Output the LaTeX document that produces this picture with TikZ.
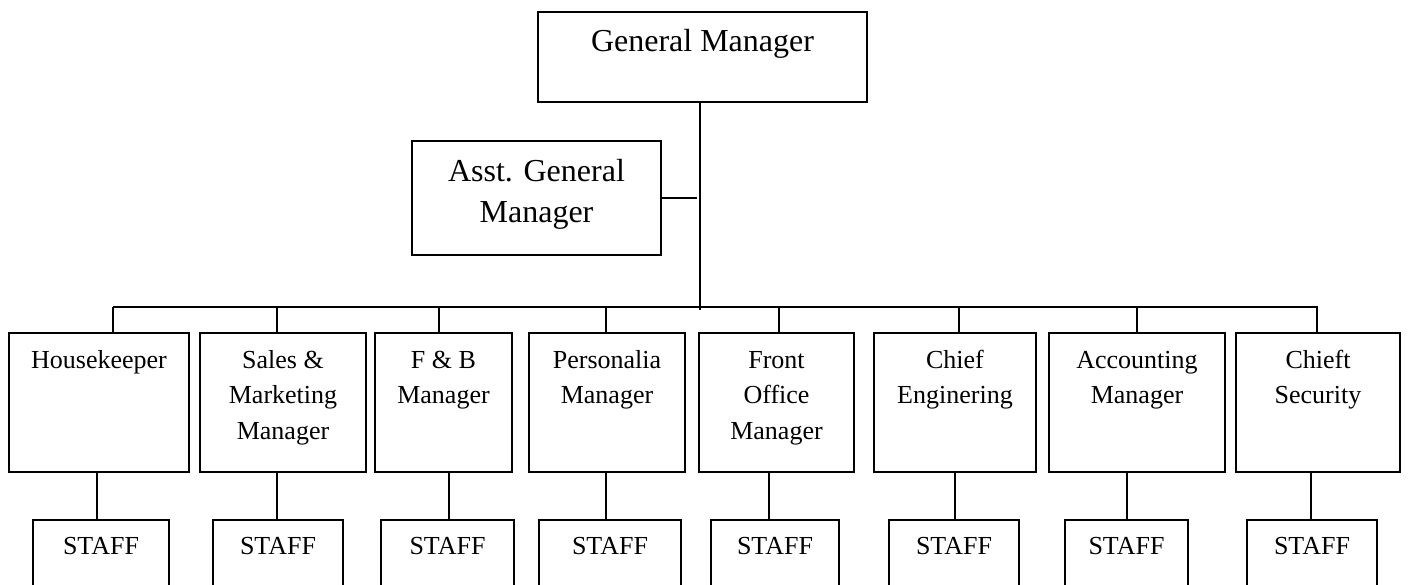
\documentclass[tikz,border=0pt]{standalone}
\usepackage{fontspec}
\setmainfont{Liberation Serif}
\tikzset{
  boxst/.style={draw, line width=1.8pt, inner sep=0pt, outer sep=0pt, anchor=north},
  conn/.style={line width=1.8pt},
}
% name, x1, y1, x2, y2, first-baseline, font size, leading, text
\newcommand\orgbox[9]{%
  \node[boxst] (#1) at ({(#2+#4)/2},#3) {\parbox[c][\dimexpr #5pt-#3pt\relax][t]{\dimexpr #4pt-#2pt\relax}{\centering\fontsize{#7}{#8}\selectfont\rule{0pt}{#6pt}#9\par}};}
\begin{document}
\begin{tikzpicture}[x=1pt,y=-1pt]
\useasboundingbox (0,0) rectangle (1408,585);
\clip (0,0) rectangle (1408,585);
% top
\orgbox{gm}{538}{12}{867}{102}{40}{32}{41}{General Manager}
\orgbox{agm}{412}{141}{661}{255}{41}{32}{41}{Asst. General\\Manager}
% managers
\orgbox{hk}{9}{333}{189}{472}{35}{26}{35.5}{Housekeeper}
\orgbox{sm}{200}{333}{366}{472}{35}{26}{35.5}{Sales \&\\Marketing\\Manager}
\orgbox{fb}{375}{333}{512}{472}{35}{26}{35.5}{F \& B\\Manager}
\orgbox{pm}{529}{333}{685}{472}{35}{26}{35.5}{Personalia\\Manager}
\orgbox{fo}{699}{333}{854}{472}{35}{26}{35.5}{Front\\Office\\Manager}
\orgbox{ce}{874}{333}{1036}{472}{35}{26}{35.5}{Chief\\Enginering}
\orgbox{am}{1049}{333}{1225}{472}{35}{26}{35.5}{Accounting\\Manager}
\orgbox{cs}{1236}{333}{1400}{472}{35}{26}{35.5}{Chieft\\Security}
% staff
\orgbox{s1}{33}{520}{169}{600}{34}{26}{35.5}{STAFF}
\orgbox{s2}{213}{520}{343}{600}{34}{26}{35.5}{STAFF}
\orgbox{s3}{381}{520}{514}{600}{34}{26}{35.5}{STAFF}
\orgbox{s4}{539}{520}{681}{600}{34}{26}{35.5}{STAFF}
\orgbox{s5}{711}{520}{839}{600}{34}{26}{35.5}{STAFF}
\orgbox{s6}{889}{520}{1019}{600}{34}{26}{35.5}{STAFF}
\orgbox{s7}{1065}{520}{1188}{600}{34}{26}{35.5}{STAFF}
\orgbox{s8}{1247}{520}{1377}{600}{34}{26}{35.5}{STAFF}
% trunk and bus
\coordinate (tr) at (700,310);
\coordinate (aj) at (697,198);
\coordinate (bl) at (113,307);
\coordinate (br) at (1318,307);
\draw[conn] (gm.south -| tr) -- (tr);
\draw[conn] (agm.east) -- (aj);
\draw[conn] (bl) -- (br);
% drops from bus
\foreach \xx/\n in {113/hk,277/sm,439/fb,606/pm,779/fo,959/ce,1137/am,1317/cs}
  \draw[conn] (\xx,307) -- (\xx,307 |- \n.north);
% manager to staff
\foreach \xx/\m/\s in {97/hk/s1,277/sm/s2,449/fb/s3,606/pm/s4,769/fo/s5,955/ce/s6,1127/am/s7,1311/cs/s8}
  \draw[conn] (\xx,0 |- \m.south) -- (\xx,0 |- \s.north);
\end{tikzpicture}
\end{document}
